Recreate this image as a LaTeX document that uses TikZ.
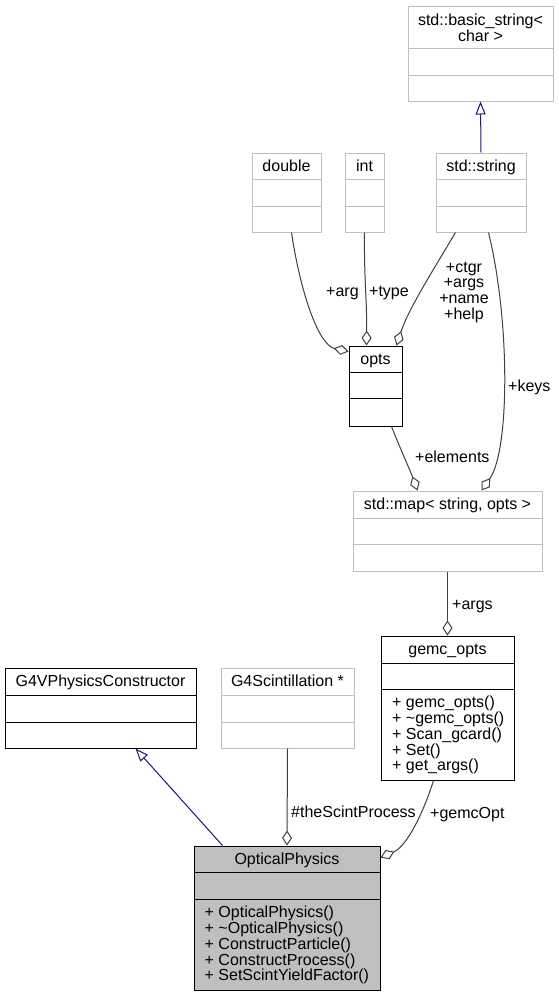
\documentclass[tikz,border=0pt]{standalone}
\usepackage{fontspec}
\setmainfont{Liberation Sans}
\usetikzlibrary{arrows.meta,fit}
\definecolor{edgec}{HTML}{404040}
\definecolor{inhc}{HTML}{191970}
\definecolor{grayb}{HTML}{BFBFBF}
\tikzset{
 cls/.style={draw=black, line width=1pt, inner sep=0pt},
 ext/.style={draw=grayb, line width=1pt, inner sep=0pt},
 cur/.style={draw=black, fill=grayb, line width=1pt, inner sep=0pt},
 txt/.style={inner sep=0pt, font=\fontsize{16}{15.75}\selectfont},
 agg/.style={draw=edgec, line width=1pt, -{Diamond[open,length=15pt,width=10pt]}},
 inh/.style={draw=inhc, line width=1pt, -{Triangle[open,length=13pt,width=10pt]}},
}
\newcommand{\umlbox}[8]{%
  \node[#2, fit={(#3,#4) (#5,#6)}] (#1) {};
  \draw[#2, fill=none] (#3,#7) -- (#5,#7) (#3,#8) -- (#5,#8);}
\begin{document}
\begin{tikzpicture}[x=1pt,y=-1pt]
\useasboundingbox[fill=white] (0,0) rectangle (559,996);
% boxes
\umlbox{bstr}{ext}{408}{6}{553}{101}{48}{75}
\umlbox{str}{ext}{436}{153}{526}{232}{179}{206}
\umlbox{intt}{ext}{345}{153}{384}{232}{179}{206}
\umlbox{dbl}{ext}{252}{153}{321}{232}{179}{206}
\umlbox{opts}{cls}{349}{346}{402}{426}{372}{398}
\umlbox{map}{ext}{353}{491}{542}{571}{518}{544}
\umlbox{gemc}{cls}{381}{636}{514}{780}{663}{689}
\umlbox{g4v}{cls}{5}{668}{196}{748}{695}{722}
\umlbox{g4s}{ext}{221}{668}{354}{748}{695}{722}
\umlbox{op}{cur}{194}{846}{380}{990}{872}{899}
% titles
\node[txt, anchor=base] (bstr-t1) at (480.5,25.5) {std::basic\_string<};
\node[txt, anchor=base] (bstr-t2) at (480.5,41) {char >};
\node[txt, anchor=base] (str-t) at (481,171) {std::string};
\node[txt, anchor=base] (intt-t) at (364.5,171) {int};
\node[txt, anchor=base] (dbl-t) at (286.5,171) {double};
\node[txt, anchor=base] (opts-t) at (375.5,364.5) {opts};
\node[txt, anchor=base] (map-t) at (447.5,509.5) {std::map< string, opts >};
\node[txt, anchor=base] (gemc-t) at (447.5,654.5) {gemc\_opts};
\node[txt, anchor=base] (g4v-t) at (100.5,686.5) {G4VPhysicsConstructor};
\node[txt, anchor=base] (g4s-t) at (287.5,686.5) {G4Scintillation *};
\node[txt, anchor=base] (op-t) at (287,864.5) {OpticalPhysics};
% methods
\node[txt, anchor=north west, align=left] (gemc-m) at (392,696)
  {+ gemc\_opts()\\+ \textasciitilde gemc\_opts()\\+ Scan\_gcard()\\+ Set()\\+ get\_args()};
\node[txt, anchor=north west, align=left] (op-m) at (204.5,906)
  {+ OpticalPhysics()\\+ \textasciitilde OpticalPhysics()\\+ ConstructParticle()\\+ ConstructProcess()\\+ SetScintYieldFactor()};
% connectors
\draw[inh] (str.north) -- (bstr.south);
\draw[inh] ([xshift=29pt]op.north west) -- ([xshift=131pt]g4v.south west);
\draw[agg] (g4s.south) -- (op.north);
\draw[agg] ([xshift=53pt]gemc.south west) .. controls (425,808) and (408,846) .. ([yshift=-12pt]op.north east);
\draw[agg] (map.south) -- (gemc.north);
\draw[agg] ([xshift=43pt]opts.south west) .. controls (400,448) and (410,470) .. ([xshift=65pt]map.north west);
\draw[agg] ([xshift=53pt]str.south west) .. controls (510,320) and (510,450) .. ([xshift=129pt]map.north west);
\draw[agg] ([xshift=40pt]dbl.south west) .. controls (300,290) and (318,345) .. ([yshift=-6pt]opts.north west);
\draw[agg] (intt.south) .. controls (364,280) and (367,300) .. ([xshift=18pt]opts.north west);
\draw[agg] ([xshift=20pt]str.south west) .. controls (432,272) and (408,310) .. ([xshift=48pt]opts.north west);
% labels
\node[txt, anchor=base west] (l-arg) at (326,296.5) {+arg};
\node[txt, anchor=base west] (l-type) at (369,296.5) {+type};
\node[txt, anchor=north, align=center] (l-ctgr) at (464,261.5) {+ctgr\\+args\\+name\\+help};
\node[txt, anchor=base west] (l-keys) at (508,391.5) {+keys};
\node[txt, anchor=base west] (l-elem) at (415,462.5) {+elements};
\node[txt, anchor=base west] (l-args) at (452,609.5) {+args};
\node[txt, anchor=base west] (l-scint) at (291,817.5) {\#theScintProcess};
\node[txt, anchor=base west] (l-gemc) at (430,818.5) {+gemcOpt};
\end{tikzpicture}
\end{document}
